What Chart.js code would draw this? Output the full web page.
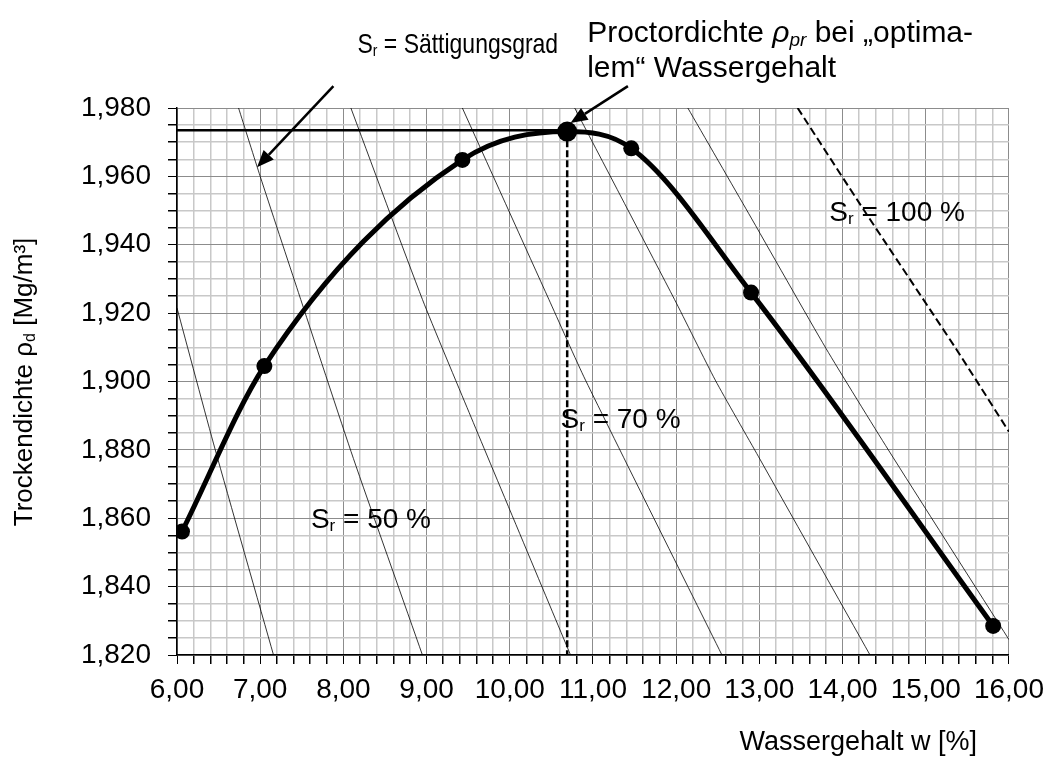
<!DOCTYPE html>
<html>
<head>
<meta charset="utf-8">
<script src="https://cdn.jsdelivr.net/npm/chart.js@4.4.1/dist/chart.umd.min.js"></script>
<style>
  html, body { margin: 0; padding: 0; background: #fff; }
  canvas { display: block; }
</style>
</head>
<body>
<canvas id="proctor" width="1053" height="760"></canvas>
<script>
/* ---- Proctor curve (Wassergehalt w [%], Trockendichte [Mg/m3]) ---- */
const wProctor   = [6.06, 7.05, 9.43, 10.69, 11.46, 12.90, 15.81];
const rhoProctor = [1.8561, 1.9045, 1.9648, 1.9731, 1.9682, 1.9260, 1.8285];
const peakIndex  = 3;        // Proctordichte point
const wOpt   = 10.69;        // optimaler Wassergehalt
const rhoPr  = 1.9735;       // Proctordichte

/* ---- Saettigungslinien Sr = 40 ... 100 % ---- */
const sr40w   = [6.00, 6.46, 7.16];
const sr40rho = [1.9215, 1.880, 1.820];
const sr50w   = [6.74, 7.00, 7.46, 8.12, 8.95];
const sr50rho = [1.980, 1.960, 1.926, 1.8775, 1.820];
const sr60w   = [8.09, 8.95, 9.51, 10.73];
const sr60rho = [1.980, 1.924, 1.891, 1.820];
const sr70w   = [9.43, 10.47, 10.91, 12.55];
const sr70rho = [1.980, 1.924, 1.9004, 1.820];
const sr80w   = [10.78, 11.98, 12.47, 12.99, 14.33];
const sr80rho = [1.980, 1.924, 1.9004, 1.878, 1.820];
const sr90w   = [12.14, 12.87, 13.80, 14.55, 16.00];
const sr90rho = [1.980, 1.9492, 1.9097, 1.880, 1.8245];
const sr100w   = [13.46, 14.26, 15.36, 16.00];
const sr100rho = [1.980, 1.950, 1.9097, 1.8853];

/* ---- axes ---- */
const xMin = 6, xMax = 16, xMinorStep = 0.2;
const yMin = 1.82, yMax = 1.98, yMinorStep = 0.005;
const xTickLabels = ['6,00','7,00','8,00','9,00','10,00','11,00','12,00','13,00','14,00','15,00','16,00'];
const yTickLabels = ['1,820','1,840','1,860','1,880','1,900','1,920','1,940','1,960','1,980'];

const FONT = "'Liberation Sans', Arial, sans-serif";

function pts(xs, ys) {
  return xs.map((v, i) => ({ x: v, y: ys[i] }));
}

// minor tick positions for grid lines
function steps(min, max, step) {
  const out = [];
  const n = Math.round((max - min) / step);
  for (let i = 0; i <= n; i++) out.push(+(min + i * step).toFixed(4));
  return out;
}

const xMajorFmt = v => (Math.abs(v - Math.round(v)) < 1e-6) ? v.toFixed(2).replace('.', ',') : null;
const yMajorFmt = v => (Math.abs(v * 50 - Math.round(v * 50)) < 1e-6) ? v.toFixed(3).replace('.', ',') : null;

function thinLine(xs, ys, dash) {
  return {
    data: pts(xs, ys),
    borderColor: '#000',
    borderWidth: dash ? 2 : 0.8,
    borderDash: dash || [],
    pointRadius: 0,
    tension: 0.2
  };
}

// text with sub-/italic runs
function drawRuns(ctx, runs, x, y, size, align) {
  const fontFor = r => (r.italic ? 'italic ' : '') + (r.sub ? Math.round(size * 0.62) : size) + 'px ' + FONT;
  let total = 0;
  runs.forEach(r => { ctx.font = fontFor(r); total += ctx.measureText(r.t).width; });
  let cx = align === 'right' ? x - total : (align === 'center' ? x - total / 2 : x);
  runs.forEach(r => {
    ctx.font = fontFor(r);
    ctx.fillText(r.t, cx, r.sub ? y + size * 0.22 : y);
    cx += ctx.measureText(r.t).width;
  });
}

function arrow(ctx, x0, y0, x1, y1) {
  const a = Math.atan2(y1 - y0, x1 - x0);
  const len = 17, half = 7;
  const bx = x1 - len * Math.cos(a), by = y1 - len * Math.sin(a);
  ctx.beginPath();
  ctx.lineWidth = 2.5;
  ctx.moveTo(x0, y0);
  ctx.lineTo(bx, by);
  ctx.stroke();
  ctx.beginPath();
  ctx.moveTo(x1, y1);
  ctx.lineTo(bx + half * Math.sin(a), by - half * Math.cos(a));
  ctx.lineTo(bx - half * Math.sin(a), by + half * Math.cos(a));
  ctx.closePath();
  ctx.fill();
}

const extras = {
  id: 'extras',
  afterDraw(chart) {
    const { ctx } = chart;
    const x = chart.scales.x, y = chart.scales.y;
    const px = v => x.getPixelForValue(v);
    const py = v => y.getPixelForValue(v);
    ctx.save();
    ctx.fillStyle = '#000';
    ctx.strokeStyle = '#000';
    ctx.textBaseline = 'middle';

    // labels inside the plot
    drawRuns(ctx, [{ t: 'S' }, { t: 'r', sub: true }, { t: ' = 100 %' }], px(13.84), py(1.9492), 28, 'left');
    drawRuns(ctx, [{ t: 'S' }, { t: 'r', sub: true }, { t: ' = 70 %' }], px(10.61), py(1.8887), 28, 'left');
    drawRuns(ctx, [{ t: 'S' }, { t: 'r', sub: true }, { t: ' = 50 %' }], px(7.61), py(1.8595), 28, 'left');

    // annotations above the plot
    const note = (runs, vx, vy, size, sx) => {
      ctx.save();
      ctx.translate(px(vx), py(vy));
      ctx.scale(sx, 1);
      drawRuns(ctx, runs, 0, 0, size, 'left');
      ctx.restore();
    };
    note([{ t: 'S' }, { t: 'r', sub: true }, { t: ' = Sättigungsgrad' }], 8.17, 1.9983, 28, 0.82);
    note([{ t: 'Proctordichte ' }, { t: 'ρ', italic: true }, { t: 'pr', italic: true, sub: true }, { t: ' bei „optima-' }], 10.93, 2.0017, 30, 1);
    note([{ t: 'lem“ Wassergehalt' }], 10.93, 1.9915, 30, 1);

    arrow(ctx, px(7.88), py(1.9864), px(6.962), py(1.9627));
    arrow(ctx, px(11.42), py(1.9864), px(10.73), py(1.9756));

    // axis titles
    drawRuns(ctx, [{ t: 'Wassergehalt w [%]' }], 977, 743, 27, 'right');
    ctx.save();
    ctx.translate(25, 382);
    ctx.rotate(-Math.PI / 2);
    drawRuns(ctx, [{ t: 'Trockendichte ρ' }, { t: 'd', sub: true }, { t: ' [Mg/m³]' }], 0, 0, 26, 'center');
    ctx.restore();

    ctx.restore();
  }
};

new Chart(document.getElementById('proctor'), {
  type: 'line',
  data: {
    datasets: [
      {
        // Proctorkurve
        data: pts(wProctor, rhoProctor),
        borderColor: '#000',
        backgroundColor: '#000',
        borderWidth: 5,
        pointRadius: wProctor.map((_, i) => i === peakIndex ? 10 : 8),
        pointBorderWidth: 0,
        cubicInterpolationMode: 'monotone'
      },
      {
        // horizontal line at Proctordichte
        data: [{ x: xMin, y: rhoPr }, { x: wOpt, y: rhoPr }],
        borderColor: '#000', borderWidth: 2.5, pointRadius: 0
      },
      {
        // vertical dashed line at w_opt
        data: [{ x: wOpt, y: rhoPr }, { x: wOpt, y: yMin }],
        borderColor: '#000', borderWidth: 2.5, borderDash: [7, 3], pointRadius: 0
      },
      thinLine(sr40w, sr40rho),
      thinLine(sr50w, sr50rho),
      thinLine(sr60w, sr60rho),
      thinLine(sr70w, sr70rho),
      thinLine(sr80w, sr80rho),
      thinLine(sr90w, sr90rho),
      thinLine(sr100w, sr100rho, [8, 4])
    ]
  },
  options: {
    responsive: false,
    animation: false,
    devicePixelRatio: 1,
    layout: { padding: { top: 108, right: 41, left: 0, bottom: 0 } },
    plugins: { legend: { display: false }, tooltip: { enabled: false } },
    scales: {
      x: {
        type: 'linear',
        min: xMin, max: xMax,
        afterBuildTicks: s => { s.ticks = steps(xMin, xMax, xMinorStep).map(v => ({ value: v })); },
        afterFit: s => { s.height = 105; },
        border: { color: '#000', width: 1.5 },
        grid: {
          color: c => xMajorFmt(c.tick.value) ? '#8c8c8c' : '#c8c8c8',
          lineWidth: c => xMajorFmt(c.tick.value) ? 1 : 1.5,
          tickColor: '#000',
          tickLength: 9
        },
        ticks: {
          autoSkip: false,
          maxRotation: 0,
          padding: 9,
          color: '#000',
          font: { family: FONT, size: 28 },
          callback: v => {
            const f = xMajorFmt(v);
            return f && xTickLabels.includes(f) ? f : '';
          }
        }
      },
      y: {
        type: 'linear',
        min: yMin, max: yMax,
        afterBuildTicks: s => { s.ticks = steps(yMin, yMax, yMinorStep).map(v => ({ value: v })); },
        afterFit: s => { s.width = 177; },
        border: { color: '#000', width: 1.5 },
        grid: {
          color: c => yMajorFmt(c.tick.value) ? '#8c8c8c' : '#c8c8c8',
          lineWidth: c => yMajorFmt(c.tick.value) ? 1 : 1.5,
          tickColor: '#000',
          tickLength: 9
        },
        ticks: {
          autoSkip: false,
          padding: 17,
          color: '#000',
          font: { family: FONT, size: 28 },
          callback: v => {
            const f = yMajorFmt(v);
            return f && yTickLabels.includes(f) ? f : '';
          }
        }
      }
    }
  },
  plugins: [extras]
});
</script>
</body>
</html>
